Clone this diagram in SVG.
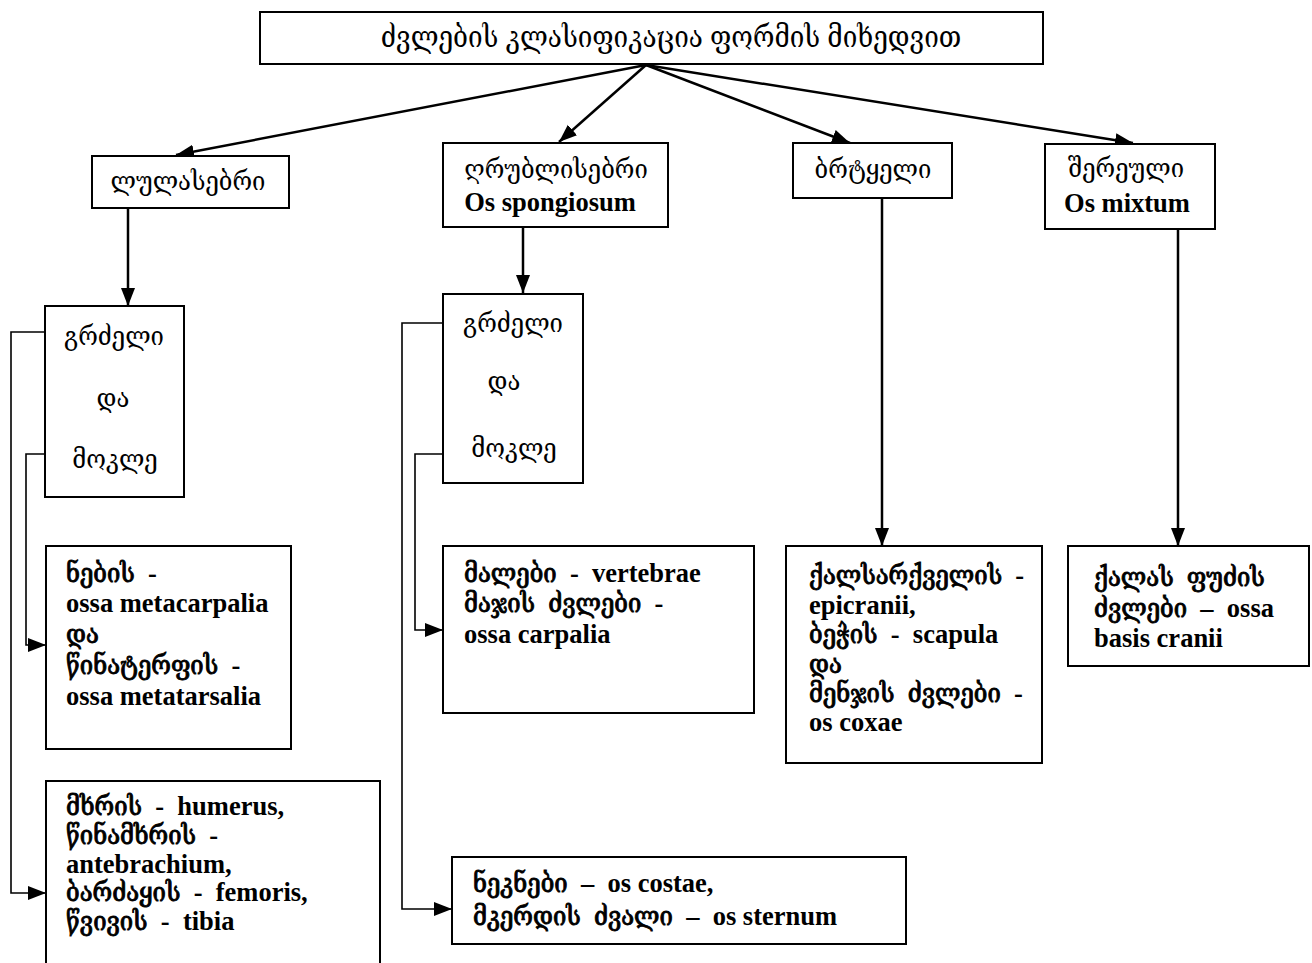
<svg xmlns="http://www.w3.org/2000/svg" width="1312" height="963" viewBox="0 0 1312 963">
  <style>
    .box { fill: #fff; stroke: #000; stroke-width: 2; }
    .txt { font-family: "Liberation Serif", "DejaVu Serif Condensed", "DejaVu Serif", serif; font-stretch: condensed; font-size: 26.5px; font-weight: bold; fill: #000; white-space: pre; }
    .reg { font-weight: normal; }
    .title { font-size: 29px; }
    .mid { text-anchor: middle; }
    /* Georgian runs inside the detail boxes: regular face thickened with a stroke */
    .kb { font-weight: normal; stroke: #000; stroke-width: 0.9px; }
    .main { fill: none; stroke: #000; stroke-width: 2.5; }
    .side { fill: none; stroke: #000; stroke-width: 1.6; }
  </style>
  <defs>
    <marker id="head" markerUnits="userSpaceOnUse" markerWidth="20" markerHeight="16" refX="18" refY="7" orient="auto">
      <path d="M0,0 L18,7 L0,14 Z" fill="#000"/>
    </marker>
  </defs>

  <rect width="1312" height="963" fill="#fff"/>

  <!-- connectors -->
  <g id="connectors">
    <line class="main" x1="646" y1="65" x2="176" y2="155" marker-end="url(#head)"/>
    <line class="main" x1="646" y1="65" x2="559" y2="142" marker-end="url(#head)"/>
    <line class="main" x1="646" y1="65" x2="850" y2="143" marker-end="url(#head)"/>
    <line class="main" x1="646" y1="65" x2="1133" y2="143" marker-end="url(#head)"/>

    <line class="main" x1="128" y1="208" x2="128" y2="306" marker-end="url(#head)"/>
    <line class="main" x1="523" y1="227" x2="523" y2="293" marker-end="url(#head)"/>
    <line class="main" x1="882" y1="198" x2="882" y2="546" marker-end="url(#head)"/>
    <line class="main" x1="1178" y1="229" x2="1178" y2="546" marker-end="url(#head)"/>

    <polyline class="side" points="45,332 11,332 11,893 46,893" marker-end="url(#head)"/>
    <polyline class="side" points="45,454 26,454 26,645 46,645" marker-end="url(#head)"/>
    <polyline class="side" points="443,323 402,323 402,909 452,909" marker-end="url(#head)"/>
    <polyline class="side" points="443,454 415,454 415,630 443,630" marker-end="url(#head)"/>
  </g>

  <!-- root -->
  <g id="root">
    <rect class="box" x="260" y="12" width="783" height="52"/>
    <text class="txt reg title mid" x="671" y="47">ძვლების კლასიფიკაცია ფორმის მიხედვით</text>
  </g>

  <!-- second level -->
  <g id="tubular">
    <rect class="box" x="92" y="156" width="197" height="52"/>
    <text class="txt reg mid" x="188" y="190">ლულასებრი</text>
  </g>
  <g id="spongy">
    <rect class="box" x="443" y="143" width="225" height="84"/>
    <text class="txt reg mid" x="556" y="178">ღრუბლისებრი</text>
    <text class="txt mid" x="550" y="211">Os spongiosum</text>
  </g>
  <g id="flat">
    <rect class="box" x="793" y="143" width="159" height="55"/>
    <text class="txt reg mid" x="873" y="178">ბრტყელი</text>
  </g>
  <g id="mixed">
    <rect class="box" x="1045" y="144" width="170" height="85"/>
    <text class="txt reg mid" x="1126" y="177">შერეული</text>
    <text class="txt mid" x="1127" y="212">Os mixtum</text>
  </g>

  <!-- long and short, tubular -->
  <g id="tubular-long-short">
    <rect class="box" x="45" y="306" width="139" height="191"/>
    <text class="txt reg mid" x="114" y="345">გრძელი</text>
    <text class="txt reg mid" x="113" y="407">და</text>
    <text class="txt reg mid" x="115" y="468">მოკლე</text>
  </g>

  <!-- long and short, spongy -->
  <g id="spongy-long-short">
    <rect class="box" x="443" y="294" width="140" height="189"/>
    <text class="txt reg mid" x="513" y="332">გრძელი</text>
    <text class="txt reg mid" x="504" y="390">და</text>
    <text class="txt reg mid" x="514" y="457">მოკლე</text>
  </g>

  <!-- short tubular examples -->
  <g id="short-tubular">
    <rect class="box" x="46" y="546" width="245" height="203"/>
    <text class="txt" x="66" y="582"><tspan class="kb">ნების</tspan>  -</text>
    <text class="txt" x="66" y="612">ossa metacarpalia</text>
    <text class="txt" x="66" y="643"><tspan class="kb">და</tspan></text>
    <text class="txt" x="66" y="674"><tspan class="kb">წინატერფის</tspan>  -</text>
    <text class="txt" x="66" y="705">ossa metatarsalia</text>
  </g>

  <!-- long tubular examples -->
  <g id="long-tubular">
    <rect class="box" x="46" y="781" width="334" height="200"/>
    <text class="txt" x="66" y="815"><tspan class="kb">მხრის</tspan>  -  humerus,</text>
    <text class="txt" x="66" y="844"><tspan class="kb">წინამხრის</tspan>  -</text>
    <text class="txt" x="66" y="873">antebrachium,</text>
    <text class="txt" x="66" y="901"><tspan class="kb">ბარძაყის</tspan>  -  femoris,</text>
    <text class="txt" x="66" y="930"><tspan class="kb">წვივის</tspan>  -  tibia</text>
  </g>

  <!-- short spongy examples -->
  <g id="short-spongy">
    <rect class="box" x="443" y="546" width="311" height="167"/>
    <text class="txt" x="464" y="582"><tspan class="kb">მალები</tspan>  -  vertebrae</text>
    <text class="txt" x="464" y="612"><tspan class="kb">მაჯის  ძვლები</tspan>  -</text>
    <text class="txt" x="464" y="643">ossa carpalia</text>
  </g>

  <!-- long spongy examples -->
  <g id="long-spongy">
    <rect class="box" x="452" y="857" width="454" height="87"/>
    <text class="txt" x="473" y="892"><tspan class="kb">ნეკნები</tspan>  –  os costae,</text>
    <text class="txt" x="473" y="925"><tspan class="kb">მკერდის  ძვალი</tspan>  –  os sternum</text>
  </g>

  <!-- flat examples -->
  <g id="flat-examples">
    <rect class="box" x="786" y="546" width="256" height="217"/>
    <text class="txt" x="809" y="584"><tspan class="kb">ქალსარქველის</tspan>  -</text>
    <text class="txt" x="809" y="614">epicranii,</text>
    <text class="txt" x="809" y="643"><tspan class="kb">ბეჭის</tspan>  -  scapula</text>
    <text class="txt" x="809" y="673"><tspan class="kb">და</tspan></text>
    <text class="txt" x="809" y="702"><tspan class="kb">მენჯის  ძვლები</tspan>  -</text>
    <text class="txt" x="809" y="731">os coxae</text>
  </g>

  <!-- mixed examples -->
  <g id="mixed-examples">
    <rect class="box" x="1068" y="546" width="241" height="120"/>
    <text class="txt" x="1094" y="586"><tspan class="kb">ქალას  ფუძის</tspan></text>
    <text class="txt" x="1094" y="617"><tspan class="kb">ძვლები</tspan>  –  ossa</text>
    <text class="txt" x="1094" y="647">basis cranii</text>
  </g>
</svg>
